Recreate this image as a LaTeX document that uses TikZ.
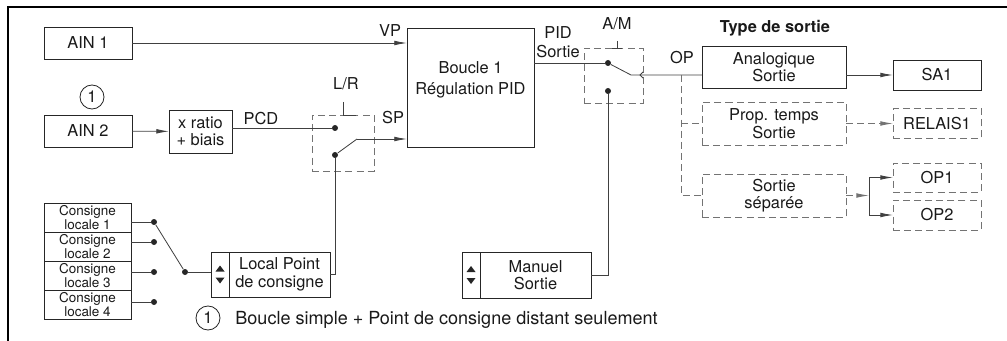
\documentclass[tikz,border=0pt]{standalone}
\usepackage{fontspec}
\setmainfont{TeX Gyre Heros}
\usetikzlibrary{arrows.meta, positioning, calc}

\tikzset{
  sz/.style 2 args={minimum width=#1*0.3mm, minimum height=#2*0.3mm},
  blk/.style={draw=black!85, line width=0.8pt, inner sep=0pt, outer sep=0pt, align=center},
  dblk/.style={blk, draw=black!55, dash pattern=on 6pt off 3.5pt},
  wire/.style={draw=black!75},
  sw/.style={draw=black!55, dash pattern=on 6pt off 3.5pt},
  dot/.style={circle, fill=black!85, inner sep=0pt, minimum size=1.8mm},
  small/.style={font=\fontsize{11.5}{10}\selectfont},
  note/.style={circle, draw=black!85, line width=0.7pt, inner sep=0pt, minimum size=7.2mm},
  pics/updown/.style={code={
    \fill[black!85] (-4.5,-3) -- (4.5,-3) -- (0,-9) -- cycle;
    \fill[black!85] (-4.5,3) -- (4.5,3) -- (0,9) -- cycle;
  }}
}

\begin{document}
\begin{tikzpicture}[
  x=0.3mm, y=-0.3mm,
  font=\fontsize{14}{15}\selectfont, text=black!90,
  line width=0.7pt,
  >={Latex[length=3.8mm,width=1.4mm]}
]
  \useasboundingbox (0,0) rectangle (1007,341);
  \draw[line width=1pt] (8,341) -- (8,7) -- (1007,7);

  % inputs
  \node[blk, sz={88}{32}] (ain1) at (88,43) {AIN 1};
  \node[blk, sz={88}{32}] (ain2) at (88,131) {AIN 2};
  \node[note] (n1) at (92,97) {1};
  \node[blk, sz={63}{43}] (ratio) at (200.5,131.5) {x ratio\\+ biais};
  \node[blk, sz={127}{119}] (boucle) at (470.5,87.5) {};
  \node[align=center] (bouclet) at (470.5,80) {Boucle 1\\[3pt]R\'egulation PID};

  % L/R switch
  \node[dblk, sz={62}{56}] (lr) at (343,143) {};
  \draw[wire] (lr.north) ++(0,-13) -- (lr.north) -- ++(13,0);
  \node[dot] (lr1) at (335,128) {};
  \node[dot] (lr2) at (335,155) {};
  \coordinate (lrk) at (357,139);
  \node[anchor=base] (vpl) at (390,37) {VP};
  \node[anchor=base] (spl) at (393,124) {SP};
  \node[anchor=base] (pcdl) at (261,125) {PCD};
  \node[anchor=base] (lrl) at (346,90) {L/R};

  \draw[wire, ->] (ain1) -- (boucle.west |- ain1);
  \draw[wire, ->] (ain2) -- (ratio);
  \draw[wire] (ratio.east |- lr1) -- (lr1);
  \draw[wire] (lr2) -- (lrk);
  \draw[wire, ->] (lrk) -- (boucle.west |- lrk);

  % local setpoints
  \foreach \i/\y/\dy in {1/217.5/222, 2/246.5/242, 3/275.5/272, 4/304.5/302} {
    \node[blk, small, sz={87}{29}] (c\i) at (87.5,\y) {Consigne\\locale \i};
    \node[dot] (d\i) at (154,\dy) {};
    \draw[wire] (c\i.east |- d\i) -- (d\i);
  }
  \node[dot] (sel) at (185,272) {};
  \draw[wire] (d1) -- (sel);
  \node[blk, sz={18}{45}] (lpa) at (220,274.5) {};
  \node[blk, sz={101}{45}, right=0pt of lpa] (lp) {Local Point\\de consigne};
  \pic at (lpa) {updown};
  \draw[wire] (sel) -- (lpa.west |- sel);
  \draw[wire] (lp.east) -| (lr2);

  % A/M switch
  \node[dblk, sz={59}{55}] (am) at (613.5,75.5) {};
  \draw[wire] (am.north) ++(3.5,-7) -- ++(0,7) ++(-5,0) -- ++(10,0);
  \node[dot] (am1) at (608,63) {};
  \node[dot] (am2) at (608,91) {};
  \coordinate (amk) at (631,75);
  \coordinate (opj) at (681,75);
  \node[anchor=base] (aml) at (617,30) {A/M};
  \node[align=center] (pidl) at (558,42) {PID\\[1.5pt]Sortie};
  \node[anchor=base] (opl) at (682,64) {OP};

  \node[blk, sz={18}{46}] (mana) at (471,275) {};
  \node[blk, sz={111}{46}, right=0pt of mana] (man) {Manuel\\Sortie};
  \pic at (mana) {updown};
  \draw[wire] (man.east) -| (am2);

  % output types
  \node[anchor=base, font=\fontsize{14}{15}\selectfont\bfseries] (typl) at (775,33) {Type de sortie};
  \node[blk, sz={144}{42}] (analog) at (774,67) {Analogique\\Sortie};
  \node[blk, sz={88}{30}] (sa1) at (937,75) {SA1};
  \node[dblk, sz={144}{43}] (prop) at (774,123.5) {Prop. temps\\Sortie};
  \node[dblk, sz={88}{30}] (relais) at (937,123.5) {RELAIS1};
  \node[dblk, sz={144}{43}] (sep) at (774,195.5) {Sortie\\s\'epar\'ee};
  \node[dblk, sz={88}{29}] (op1) at (937,177.5) {OP1};
  \node[dblk, sz={88}{30}] (op2) at (937,215) {OP2};
  \coordinate (spj) at (869,195.5);

  \draw[wire] (boucle.east |- am1) -- (am1);
  \draw[wire] (am1) -- (amk) -- (analog.west |- amk);
  \draw[wire] (643,72) -- (640,75) -- (643,78);
  \draw[wire, ->] (analog.east |- sa1) -- (sa1);
  \draw[sw] (opj) -- (opj |- sep.west) -- (sep.west);
  \draw[sw] (opj |- prop.west) -- (prop.west);
  \draw[sw, ->] (prop) -- (relais);
  \draw[sw, ->] (sep) -- (spj);
  \draw[wire] (spj |- op1) -- (spj |- op2);
  \draw[wire, ->] (spj |- op1) -- (op1);
  \draw[wire, ->] (spj |- op2) -- (op2);

  % footnote
  \node[note] (n2) at (208,318) {1};
  \node[anchor=base west, inner sep=0pt, font=\fontsize{15.4}{15}\selectfont] (fn) at (235,324) {Boucle simple + Point de consigne distant seulement};
\end{tikzpicture}
\end{document}
